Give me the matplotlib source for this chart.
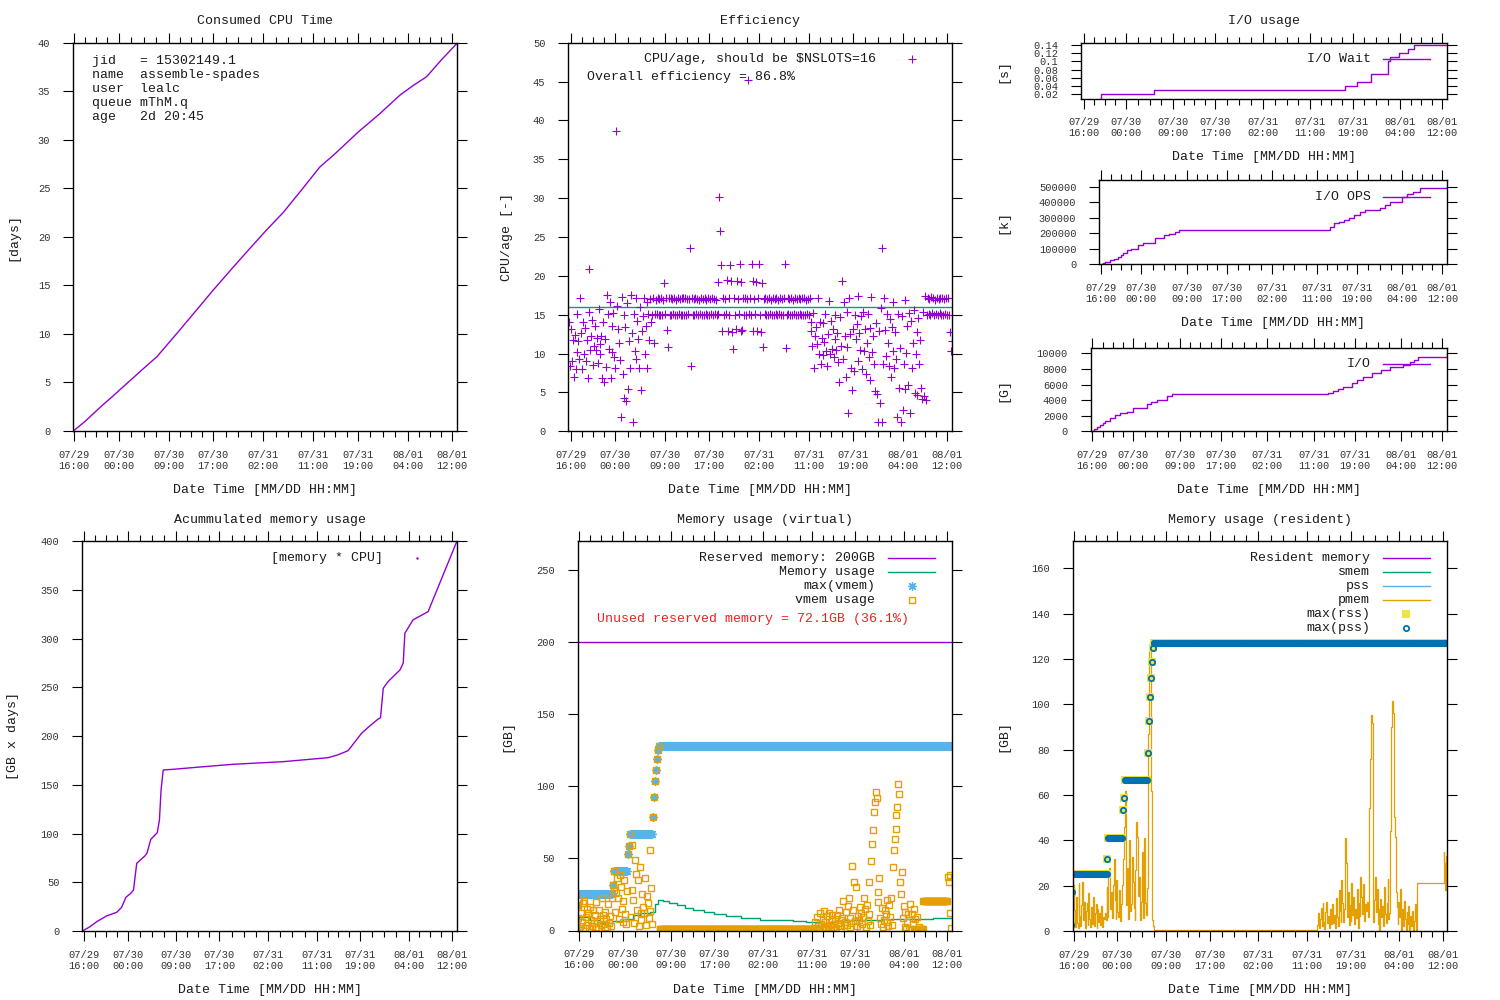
import numpy as np
import matplotlib
matplotlib.use('Agg')
import matplotlib.pyplot as plt
from matplotlib.lines import Line2D
from matplotlib.ticker import FormatStrFormatter

plt.rcParams['font.family'] = ['Liberation Mono', 'DejaVu Sans Mono']

W, H = 1500, 1000

# x axis: hours since 07/29 16:00
tick_hours = [0, 8, 17, 25, 34, 43, 51, 60, 68]
tick_labels = ['07/29\n16:00', '07/30\n00:00', '07/30\n09:00', '07/30\n17:00',
               '07/31\n02:00', '07/31\n11:00', '07/31\n19:00', '08/01\n04:00',
               '08/01\n12:00']

# job info
job_info = ['jid   = 15302149.1', 'name  assemble-spades', 'user  lealc',
            'queue mThM.q', 'age   2d 20:45']
NSLOTS = 16
RESERVED_GB = 200
overall_eff = 86.8
unused_gb, unused_pct = 72.1, 36.1

# samples every 10 min starting at -0.5 h
SAMPLE_START = -0.5
SAMPLE_STEP = 1 / 6

# consumed cpu time [days]
cpu_h = [-0.13, 2.0, 5.0, 7.0, 9.5, 13.0, 14.9, 18.5, 21.5, 25.0, 28.5, 31.6,
         34.6, 37.6, 41.0, 44.2, 47.0, 51.1, 55.0, 58.6, 61.0, 63.4, 66.0, 68.8]
cpu_days = [0.0, 1.0, 2.6, 3.6, 4.9, 6.7, 7.65, 10.06, 12.1, 14.5, 16.8, 18.8,
            20.7, 22.5, 24.9, 27.2, 28.6, 30.8, 32.7, 34.6, 35.6, 36.5, 38.2, 39.9]

# cpu/age per sample
eff_cores = [
    0.0, 14.0, 8.4, 13.2, 9.1, 11.8, 7.0, 12.4, 8.0, 10.2, 15.1, 11.6,
    9.3, 17.2, 12.7, 8.0, 14.1, 10.0, 13.3, 9.0, 11.7, 6.8, 15.4, 20.9,
    10.5, 12.2, 14.3, 8.5, 11.0, 13.6, 10.4, 12.0, 8.8, 15.8, 11.2, 10.0,
    12.3, 6.8, 14.1, 6.3, 11.9, 8.3, 17.5, 15.1, 10.6, 16.7, 6.9, 13.5,
    10.2, 15.2, 9.6, 8.1, 38.7, 16.1, 13.1, 11.4, 9.2, 1.9, 17.3, 7.4,
    15.0, 4.3, 13.4, 3.9, 16.5, 5.4, 11.6, 8.1, 17.6, 12.6, 1.2, 15.1,
    10.3, 17.2, 9.3, 14.2, 11.9, 8.1, 16.0, 5.3, 12.9, 14.8, 17.1, 9.9,
    13.5, 16.6, 8.2, 15.1, 11.8, 17.0, 14.0, 15.0, 17.2, 11.3, 15.1, 16.9,
    15.1, 17.2, 14.9, 17.0, 15.0, 17.1, 15.0, 16.9, 19.1, 15.1, 17.2, 13.0,
    10.9, 17.1, 15.0, 17.2, 14.9, 17.0, 15.1, 17.1, 15.0, 16.9, 15.0, 17.2,
    15.1, 17.0, 14.9, 17.1, 15.0, 17.1, 15.0, 17.2, 14.9, 17.0, 15.1, 17.0,
    23.6, 8.4, 17.1, 15.0, 17.0, 14.9, 17.2, 15.1, 17.0, 15.0, 16.9, 15.1,
    17.1, 14.9, 17.0, 15.0, 17.2, 15.1, 16.9, 15.0, 17.1, 14.9, 17.0, 15.1,
    17.2, 15.0, 17.0, 15.1, 16.9, 15.0, 19.2, 15.1, 30.1, 25.8, 21.4, 12.9,
    17.1, 15.0, 17.0, 15.1, 19.5, 12.9, 17.2, 15.0, 21.4, 19.4, 12.8, 10.6,
    17.1, 15.0, 13.1, 19.3, 17.0, 15.1, 21.5, 12.9, 19.2, 13.0, 17.1, 15.0,
    17.2, 14.9, 17.0, 45.2, 15.1, 17.1, 15.0, 21.5, 19.4, 12.9, 17.0, 15.1,
    19.2, 12.9, 17.1, 21.5, 15.0, 12.8, 19.1, 10.9, 17.0, 15.1, 17.2, 14.9,
    17.0, 15.0, 17.1, 15.1, 16.9, 15.0, 17.2, 14.9, 17.0, 15.1, 17.1, 15.0,
    16.9, 15.1, 17.2, 15.0, 17.0, 14.9, 17.1, 21.5, 10.7, 15.0, 17.2, 15.1,
    17.0, 14.9, 17.1, 15.0, 16.9, 15.1, 17.2, 15.0, 17.0, 14.9, 17.1, 15.1,
    17.0, 15.0, 17.2, 14.9, 17.1, 15.0, 16.9, 15.1, 17.0, 15.0, 17.2, 14.0,
    12.9, 11.0, 15.2, 8.1, 12.3, 13.4, 11.2, 17.2, 10.0, 14.0, 8.6, 12.0,
    9.8, 13.9, 11.5, 15.1, 10.3, 8.4, 12.5, 16.8, 9.9, 14.2, 10.6, 13.1,
    9.6, 11.9, 15.0, 10.4, 12.7, 8.9, 6.4, 14.7, 11.0, 19.3, 9.3, 16.6,
    12.2, 7.0, 15.3, 10.8, 2.4, 17.1, 12.5, 8.2, 5.3, 13.2, 7.8, 15.0,
    11.9, 13.8, 9.0, 17.4, 12.6, 10.5, 14.8, 8.0, 15.4, 10.3, 13.2, 7.4,
    11.4, 15.1, 9.5, 13.3, 6.6, 17.3, 10.2, 12.3, 8.6, 5.2, 13.9, 4.8,
    1.2, 12.9, 3.7, 15.9, 1.2, 23.6, 8.6, 17.2, 13.0, 9.7, 15.1, 11.4,
    8.4, 14.5, 7.0, 13.4, 10.3, 16.7, 8.1, 12.8, 9.3, 1.8, 15.1, 5.6,
    10.7, 1.2, 14.8, 2.8, 8.7, 5.4, 16.9, 10.1, 13.5, 6.0, 15.2, 2.3,
    14.2, 8.1, 11.4, 15.6, 4.9, 9.9, 12.8, 4.7, 14.6, 8.6, 11.7, 5.6,
    4.2, 15.3, 4.5, 17.4, 4.0, 15.0, 17.2, 15.1, 17.0, 14.9, 17.3, 15.2,
    17.1, 15.0, 16.9, 15.1, 17.2, 15.0, 17.0, 15.2, 17.1, 14.9, 17.2, 15.0,
    17.0, 15.1, 17.2, 14.9, 17.1, 15.0, 12.8, 10.3, 11.6,
]

# I/O (cumulative)
wait_h = [3.1, 3.3, 13.4, 49.5, 51.8, 54.5, 57.8, 58.1, 59.8, 61.6, 62.7, 69.0]
wait_s = [0.0093, 0.02, 0.03, 0.04, 0.05, 0.07, 0.10, 0.11, 0.12, 0.13, 0.14, 0.14]
ops_h = [0.1, 0.4, 0.8, 1.7, 2.6, 3.3, 4.0, 4.4, 5.1, 6.0, 7.4, 8.4, 9.5, 10.7,
         12.4, 13.4, 14.7, 15.4, 44.9, 45.6, 46.3, 47.3, 48.3, 49.3, 50.3, 51.5,
         52.6, 55.6, 56.5, 57.6, 59.9, 60.0, 61.0, 62.2, 63.5, 68.6, 69.0]
ops_k = [0, 8000, 17000, 28000, 35000, 45000, 62000, 71000, 92000, 100000,
         124000, 135000, 140000, 167500, 189000, 192000, 210000, 221000, 221000,
         240000, 264000, 275000, 285000, 298000, 318000, 335000, 350000, 360000,
         380000, 403000, 414000, 435000, 450000, 468000, 490000, 490000, 500000]
io_h = [0.0, 0.4, 0.85, 1.5, 2.0, 2.5, 3.4, 4.4, 5.4, 6.7, 8.0, 9.3, 10.6, 11.5,
        12.5, 14.5, 15.4, 44.9, 45.8, 46.8, 47.8, 48.8, 50.4, 51.5, 52.6, 54.3,
        56.2, 57.8, 60.4, 61.7, 62.5, 63.3, 68.6, 69.0]
io_gb = [0, 300, 590, 850, 1100, 1280, 1700, 2050, 2350, 2440, 2990, 3000, 3500,
         3700, 4050, 4490, 4780, 4780, 4950, 5170, 5400, 5720, 6230, 6600, 7000,
         7440, 7870, 8210, 8510, 8940, 9200, 9500, 9500, 10000]

# accumulated memory [GB x days]
acc_h = [-0.35, 1.05, 2.3, 4.1, 6.0, 6.9, 7.7, 8.6, 9.1, 9.7, 11.2, 11.6, 12.3,
         13.5, 13.9, 14.2, 14.6, 16.5, 22.0, 27.5, 36.8, 45.1, 47.0, 48.8, 51.3,
         52.5, 54.3, 54.8, 55.3, 56.2, 58.4, 59.0, 59.3, 60.8, 63.6, 68.9]
acc_gbdays = [0.0, 4.4, 9.6, 15.4, 19.2, 24.3, 34.6, 38.7, 42.0, 69.5, 77.0, 80.0,
              94.1, 100.9, 114.0, 144.8, 165.3, 166.0, 168.6, 171.1, 173.8, 177.9,
              181.0, 185.1, 203.0, 209.0, 217.3, 219.0, 249.2, 256.0, 268.0, 275.0,
              305.6, 319.3, 327.8, 399.7]

# virtual memory
mem_h = [-0.5, 0.0, 2.0, 3.8, 6.0, 8.1, 10.0, 11.2, 13.0, 14.0, 14.6, 15.5, 16.5,
         18.0, 19.5, 21.1, 23.0, 25.0, 27.2, 30.0, 33.4, 36.5, 39.6, 42.0, 44.5,
         47.0, 49.0, 51.9, 56.0, 61.1, 65.4, 69.0]
mem_gb = [2.5, 9.4, 7.0, 4.9, 6.5, 8.3, 10.5, 12.3, 12.8, 18.7, 21.1, 20.4, 19.4,
          17.6, 15.8, 14.1, 12.7, 11.3, 9.9, 8.7, 7.6, 7.1, 6.7, 6.1, 5.5, 6.4,
          7.0, 7.6, 7.9, 8.3, 9.0, 9.0]
max_vmem_gb = ([2.5, 17.1] + [25.0] * 38 + [31.7] + [41.2] * 16 + [53.4, 58.9]
               + [66.7] * 26 + [78.5, 92.8, 103.5, 111.6, 118.7, 125.0] + [128.0] * 326)
vmem_gb = [
    2.5, 17.6, 8.9, 21.3, 3.0, 12.4, 6.1, 18.8, 20.2, 2.0, 9.5, 15.2,
    4.1, 11.8, 1.5, 16.2, 7.4, 3.3, 13.9, 5.2, 10.6, 2.2, 19.5, 6.8,
    1.2, 14.4, 8.3, 3.6, 22.4, 10.6, 4.8, 2.5, 12.7, 7.7, 1.6, 18.1,
    5.5, 9.9, 3.1, 22.2, 31.7, 41.0, 28.0, 12.5, 25.7, 36.1, 22.2, 8.1,
    38.4, 30.3, 14.6, 6.2, 20.8, 34.9, 11.2, 4.3, 27.4, 53.4, 58.9, 66.7,
    9.5, 28.0, 59.1, 21.3, 5.4, 48.8, 39.5, 14.0, 34.9, 2.8, 44.0, 11.8,
    7.2, 25.6, 16.5, 11.8, 36.3, 3.9, 23.8, 19.1, 8.6, 55.7, 13.3, 29.4,
    4.8, 78.5, 92.8, 103.5, 111.6, 118.7, 125.0, 128.0, 1.3, 1.0, 0.8, 0.8,
] + [1.0] * 168 + [
    1.5, 6.2, 0.8, 9.4, 3.1, 1.2, 11.8, 4.5, 2.0, 7.3, 1.0, 13.4,
    5.6, 2.4, 9.9, 1.3, 12.1, 3.8, 0.9, 6.7, 10.5, 2.2, 4.4, 8.2,
    1.6, 11.0, 5.2, 14.3, 2.9, 7.1, 1.1, 9.0, 20.4, 3.5, 6.1, 12.7,
    4.0, 16.8, 22.7, 2.6, 8.8, 5.0, 44.7, 13.9, 33.3, 6.3, 30.1, 3.2,
    10.4, 7.5, 16.2, 1.9, 12.0, 4.7, 9.1, 22.7, 14.6, 2.5, 18.0, 6.9,
    11.3, 33.3, 3.8, 48.5, 60.3, 69.5, 82.3, 89.3, 95.8, 91.6, 26.4, 19.6,
    36.7, 9.0, 4.8, 15.3, 2.1, 7.6, 14.1, 11.2, 21.1, 5.9, 3.3, 17.8,
    9.7, 22.2, 4.1, 44.2, 55.7, 63.8, 70.6, 80.3, 86.0, 101.3, 95.0, 33.3,
    25.2, 40.3, 8.4, 17.2, 2.6, 12.6, 0.8, 6.0, 11.5, 1.0, 18.5, 0.8,
    11.5, 4.2, 14.9, 0.8, 7.8, 1.0, 9.3, 0.8, 2.4, 0.8, 1.2,
    0.8, 1.0,
] + [20.3] * 27 + [37.0, 33.3, 38.2, 12.0, 1.7]

# resident memory
pmem_gb = [
    0.0, 2.6, 20.5, 9.2, 1.9, 14.8, 3.5, 1.2, 21.1, 6.4, 2.0, 11.3,
    21.8, 4.7, 13.0, 1.5, 8.9, 12.5, 2.8, 16.6, 5.1, 1.9, 10.4, 3.3,
    15.2, 2.2, 7.8, 12.0, 1.4, 9.6, 4.0, 7.8, 2.6, 11.1, 1.8, 6.3,
    5.2, 8.0, 4.9, 19.6, 6.0, 24.1, 27.6, 9.8, 17.0, 5.6, 20.2, 31.7,
    13.5, 5.1, 22.3, 8.4, 6.0, 18.2, 4.4, 12.0, 20.5, 31.7, 46.0, 62.0,
    53.4, 11.6, 28.0, 5.5, 40.2, 8.7, 12.0, 32.8, 21.6, 10.2, 5.0, 26.9,
    48.3, 41.7, 15.3, 24.0, 5.0, 12.8, 35.0, 5.8, 8.8, 40.9, 12.4, 7.1,
    18.9, 86.9, 123.8, 127.3, 62.0, 4.8, 2.0, 0.6, 0.4, 0.4, 0.4, 0.4,
] + [0.4] * 168 + [
    0.4, 0.4, 0.4, 0.4, 0.4, 0.4, 0.4, 0.4, 2.6, 7.8, 1.5, 5.4,
    10.2, 2.2, 12.2, 4.0, 1.0, 8.6, 13.0, 3.4, 6.7, 1.2, 9.5, 2.9,
    5.3, 11.8, 3.4, 7.0, 1.4, 14.5, 6.2, 2.0, 17.9, 8.8, 4.1, 22.6,
    12.5, 3.8, 9.7, 41.2, 29.9, 6.0, 17.3, 2.5, 11.4, 4.3, 21.0, 7.2,
    14.8, 3.0, 9.9, 5.6, 18.4, 1.3, 12.2, 6.5, 23.9, 15.0, 7.4, 20.6,
    4.5, 11.8, 9.0, 13.0, 6.2, 30.1, 54.1, 76.0, 95.4, 91.7, 4.1, 13.5,
    23.9, 8.2, 18.6, 3.0, 9.5, 0.4, 14.3, 6.0, 11.0, 2.3, 19.2, 7.7,
    3.5, 12.4, 22.8, 5.1, 8.0, 44.0, 90.2, 101.7, 96.1, 50.4, 41.6, 17.1,
    10.5, 3.2, 13.0, 6.0, 18.7, 0.4, 9.7, 2.0, 13.4, 5.1, 0.4, 8.3,
    3.1, 11.2, 0.4, 6.6, 2.2, 9.0, 0.4, 4.5, 12.0, 1.8, 0.4,
] + [21.1] * 29 + [35.0, 29.9, 18.1, 33.0, 18.0]
max_rss_gb = ([2.6, 17.1] + [25.0] * 38 + [31.7] + [40.9] * 16 + [53.4, 58.9]
              + [66.6] * 26 + [78.5, 92.8, 103.5, 111.6, 118.7, 124.9] + [127.3] * 326)
max_pss_gb = list(max_rss_gb)

PURPLE, GREEN, SKY, ORANGE = '#9400d3', '#009e73', '#56b4e9', '#e69f00'
YELLOW, BLUE, RED = '#f0e442', '#0072b2', '#ee2020'
TEXTCOL = '#1a1a1a'
TICKCOL = '#333333'


def sample_times(values):
    return SAMPLE_START + np.arange(len(values)) * SAMPLE_STEP


fig = plt.figure(figsize=(15, 10), dpi=100)


def fx(x):
    return x / W


def fy(y):
    return 1 - y / H


def text(x, y, s, size=9.5, ha='center', rot=0, color=TEXTCOL):
    fig.text(fx(x), fy(y), s, fontsize=size, ha=ha, va='center',
             rotation=rot, color=color)


def key_line(x0, x1, y, color):
    fig.add_artist(Line2D([fx(x0), fx(x1)], [fy(y), fy(y)], color=color, lw=1.0))


def key_mark(x, y, **kw):
    fig.add_artist(Line2D([fx(x)], [fy(y)], linestyle='none', **kw))


def panel(l, t, r, b, xlim, ylim, yticks):
    ax = fig.add_axes([fx(l), fy(b), (r - l) / W, (b - t) / H])
    ax.set_xlim(xlim)
    ax.set_ylim(ylim)
    ax.set_xticks(tick_hours)
    ax.set_xticklabels(tick_labels)
    minors = []
    for a, c in zip(tick_hours[:-1], tick_hours[1:]):
        minors += list(np.linspace(a, c, 5)[1:-1])
    ax.set_xticks(minors, minor=True)
    ax.set_yticks(yticks)
    ax.yaxis.set_major_formatter(FormatStrFormatter('%g'))
    ax.tick_params(which='both', direction='out', top=True, right=True,
                   labelsize=7.5, labelcolor=TICKCOL, width=0.8)
    ax.tick_params(axis='x', which='major', length=7.5, pad=6)
    ax.tick_params(axis='x', which='minor', length=4.5)
    ax.tick_params(axis='y', which='major', length=7.5, pad=9)
    for s in ax.spines.values():
        s.set_linewidth(1.0)
    for lab in ax.get_xticklabels():
        lab.set_linespacing(1.1)
    xl = (l + r) / 2
    return ax, xl


XLAB = 'Date Time [MM/DD HH:MM]'

# ---- Consumed CPU Time
ax, xc = panel(73.3, 42.7, 456.7, 431, (-0.13, 68.8), (0, 40), range(0, 41, 5))
ax.plot(cpu_h, cpu_days, color=PURPLE, lw=1.0)
text(xc, 21, 'Consumed CPU Time')
text(xc, 490, XLAB)
text(13, 237, '[days]', rot=90)
for k, s in enumerate(job_info):
    text(92, 61 + 14 * k, s, ha='left')

# ---- Efficiency
ax, xc = panel(568.3, 42.7, 952.3, 431.3, (-0.49, 68.97), (0, 50), range(0, 51, 5))
ax.axhline(NSLOTS, color=GREEN, lw=1.0)
ax.plot(sample_times(eff_cores), eff_cores, linestyle='none', marker='+',
        ms=6, mew=0.8, color=PURPLE)
text(xc, 21, 'Efficiency')
text(xc, 490, XLAB)
text(507, 237, 'CPU/age [-]', rot=90)
text(876, 59.3, 'CPU/age, should be \\$NSLOTS=%d' % NSLOTS, ha='right')
key_mark(911.7, 59.3, marker='+', ms=6, mew=0.8, color=PURPLE)
text(587.3, 77.3, 'Overall efficiency = %.1f%%' % overall_eff, ha='left')

# ---- I/O usage
ax, xc = panel(1081.3, 42.7, 1447.3, 98.7, (-0.45, 68.98), (0.0093, 0.1456),
               [0.02, 0.04, 0.06, 0.08, 0.10, 0.12, 0.14])
ax.plot(wait_h, wait_s, color=PURPLE, lw=1.0, drawstyle='steps-post')
text(1264, 21, 'I/O usage')
text(xc, 156.7, XLAB)
text(1003, 70.7, '[s]', rot=90)
text(1371, 59.3, 'I/O Wait', ha='right')
key_line(1383.3, 1430, 59.3, PURPLE)

ax, xc = panel(1099.3, 180, 1447.3, 264.3, (-0.4, 68.97), (0, 543000),
               range(0, 500001, 100000))
ax.plot(ops_h, ops_k, color=PURPLE, lw=1.0, drawstyle='steps-post')
text(xc, 322.7, XLAB)
text(1003, 222, '[k]', rot=90)
text(1371, 197.3, 'I/O OPS', ha='right')
key_line(1383.3, 1430, 197.3, PURPLE)

ax, xc = panel(1090.7, 347.7, 1447.3, 431.3, (-0.31, 69.0), (0, 10720),
               range(0, 10001, 2000))
ax.plot(io_h, io_gb, color=PURPLE, lw=1.0, drawstyle='steps-post')
text(xc, 490, XLAB)
text(1003, 389.5, '[G]', rot=90)
text(1371, 364.3, 'I/O', ha='right')
key_line(1383.3, 1430, 364.3, PURPLE)

# ---- Accumulated memory
ax, xc = panel(82.3, 541.3, 457.3, 931, (-0.37, 69.0), (0, 400), range(0, 401, 50))
ax.plot(acc_h, acc_gbdays, color=PURPLE, lw=1.0)
text(xc, 520, 'Acummulated memory usage')
text(xc, 990, XLAB)
text(13, 736, '[GB x days]', rot=90)
text(382.7, 558.3, '[memory * CPU]', ha='right')
key_mark(416.7, 558.3, marker='.', ms=1.5, color=PURPLE)

# ---- Virtual memory
ax, xc = panel(577.7, 541.3, 952.3, 930.5, (-0.3, 69.0), (0, 270), range(0, 251, 50))
ax.axhline(RESERVED_GB, color=PURPLE, lw=1.0)
ax.plot(mem_h, mem_gb, color=GREEN, lw=1.0, drawstyle='steps-post')
ax.plot(sample_times(max_vmem_gb), max_vmem_gb, linestyle='none',
        marker=(8, 2, 0), ms=6.5, mew=0.9, color=SKY)
ax.plot(sample_times(vmem_gb), vmem_gb, linestyle='none', marker='s', ms=5,
        mew=1.0, mfc='none', mec=ORANGE)
text(xc, 520, 'Memory usage (virtual)')
text(xc, 990, XLAB)
text(507, 736, '[GB]', rot=90)
vkeys = ['Reserved memory: %dGB' % RESERVED_GB, 'Memory usage', 'max(vmem)',
         'vmem usage']
for k, s in enumerate(vkeys):
    text(875, 558.3 + 14 * k, s, ha='right')
key_line(888.3, 935, 558.3, PURPLE)
key_line(888.3, 935, 572.3, GREEN)
key_mark(911.7, 586.3, marker=(8, 2, 0), ms=6.5, mew=0.9, color=SKY)
key_mark(911.7, 600.3, marker='s', ms=5, mew=1.0, mfc='none', mec=ORANGE)
text(596.7, 619, 'Unused reserved memory = %.1fGB (%.1f%%)' % (unused_gb, unused_pct),
     ha='left', color=RED)

# ---- Resident memory
ax, xc = panel(1072.7, 541.3, 1447.3, 931, (-0.24, 68.85), (0, 172), range(0, 161, 20))
ax.plot(sample_times(pmem_gb), pmem_gb, color=ORANGE, lw=0.9, drawstyle='steps-post')
ax.plot(sample_times(max_rss_gb), max_rss_gb, linestyle='none', marker='s',
        ms=5.5, mew=0, color=YELLOW)
ax.plot(sample_times(max_pss_gb), max_pss_gb, linestyle='none', marker='o',
        ms=3.8, mew=1.3, mfc='none', mec=BLUE)
text(xc, 520, 'Memory usage (resident)')
text(xc, 990, XLAB)
text(1003, 736, '[GB]', rot=90)
rkeys = ['Resident memory', 'smem', 'pss', 'pmem', 'max(rss)', 'max(pss)']
for k, s in enumerate(rkeys):
    text(1370, 558.3 + 14 * k, s, ha='right')
for k, c in enumerate([PURPLE, GREEN, SKY, ORANGE]):
    key_line(1383.3, 1430, 558.3 + 14 * k, c)
key_mark(1406, 614.3, marker='s', ms=5.5, mew=0, color=YELLOW)
key_mark(1406, 628.3, marker='o', ms=3.8, mew=1.3, mfc='none', mec=BLUE)

fig.savefig('out.png', dpi=100)
